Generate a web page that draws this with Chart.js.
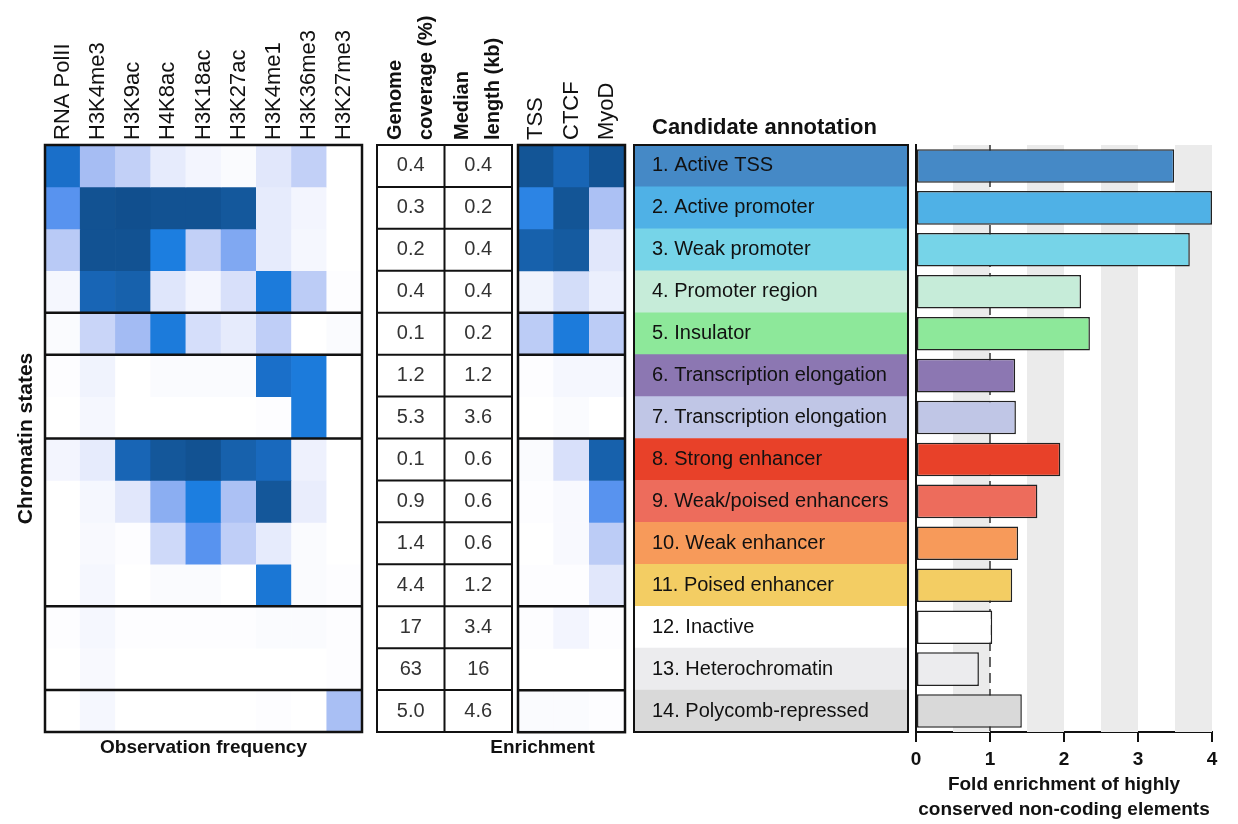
<!DOCTYPE html>
<html>
<head>
<meta charset="UTF-8">
<title>Chromatin states</title>
<script src="https://cdn.jsdelivr.net/npm/chart.js"></script>
<style>
  body { margin: 0; background: #fff; }
  #wrap { position: relative; width: 1238px; height: 824px; overflow: hidden; }
  #wrap canvas { position: absolute; top: 0; }
</style>
</head>
<body>
<div id="wrap">
  <canvas id="heat" width="372" height="824" style="left:0px"></canvas>
  <canvas id="table" width="155" height="824" style="left:365px"></canvas>
  <canvas id="enrich" width="200" height="824" style="left:440px"></canvas>
  <canvas id="annot" width="300" height="824" style="left:620px"></canvas>
  <canvas id="fold" width="342" height="824" style="left:896px"></canvas>
</div>

<script>
// --- data ---
var markLabels = ['RNA PolII', 'H3K4me3', 'H3K9ac', 'H4K8ac', 'H3K18ac', 'H3K27ac', 'H3K4me1', 'H3K36me3', 'H3K27me3'];

var stateNames = [
  '1. Active TSS', '2. Active promoter', '3. Weak promoter', '4. Promoter region',
  '5. Insulator', '6. Transcription elongation', '7. Transcription elongation',
  '8. Strong enhancer', '9. Weak/poised enhancers', '10. Weak enhancer',
  '11. Poised enhancer', '12. Inactive', '13. Heterochromatin', '14. Polycomb-repressed'
];

// observation frequency, one row per state, columns follow markLabels
var observationFreq = [
  [0.80, 0.34, 0.25, 0.10, 0.05, 0.02, 0.12, 0.25, 0.00],
  [0.55, 0.97, 0.99, 0.97, 0.97, 0.92, 0.10, 0.05, 0.00],
  [0.28, 0.97, 0.97, 0.70, 0.25, 0.45, 0.10, 0.04, 0.00],
  [0.04, 0.85, 0.87, 0.13, 0.05, 0.16, 0.72, 0.27, 0.01],
  [0.02, 0.22, 0.35, 0.72, 0.17, 0.10, 0.26, 0.00, 0.02],
  [0.01, 0.06, 0.00, 0.02, 0.02, 0.02, 0.80, 0.72, 0.00],
  [0.00, 0.04, 0.00, 0.00, 0.00, 0.00, 0.01, 0.72, 0.00],
  [0.05, 0.10, 0.85, 0.93, 0.97, 0.87, 0.83, 0.07, 0.00],
  [0.00, 0.04, 0.12, 0.42, 0.70, 0.32, 0.93, 0.09, 0.00],
  [0.00, 0.03, 0.01, 0.20, 0.55, 0.26, 0.10, 0.02, 0.00],
  [0.00, 0.04, 0.00, 0.02, 0.02, 0.00, 0.75, 0.02, 0.01],
  [0.01, 0.04, 0.01, 0.01, 0.01, 0.01, 0.02, 0.02, 0.01],
  [0.00, 0.03, 0.00, 0.00, 0.00, 0.00, 0.00, 0.00, 0.01],
  [0.00, 0.04, 0.00, 0.00, 0.00, 0.00, 0.01, 0.00, 0.33]
];

var tableLabels = [['Genome', 'coverage (%)'], ['Median', 'length (kb)']];
var genomeCoverage = [0.4, 0.3, 0.2, 0.4, 0.1, 1.2, 5.3, 0.1, 0.9, 1.4, 4.4, 17, 63, 5.0];
var medianLength = [0.4, 0.2, 0.4, 0.4, 0.2, 1.2, 3.6, 0.6, 0.6, 0.6, 1.2, 3.4, 16, 4.6];

var enrichLabels = ['TSS', 'CTCF', 'MyoD'];
var enrichment = [
  [0.95, 0.85, 0.96],
  [0.66, 0.95, 0.32],
  [0.87, 0.90, 0.12],
  [0.06, 0.18, 0.08],
  [0.27, 0.72, 0.27],
  [0.01, 0.04, 0.04],
  [0.00, 0.02, 0.00],
  [0.02, 0.16, 0.87],
  [0.01, 0.03, 0.55],
  [0.00, 0.03, 0.27],
  [0.01, 0.01, 0.12],
  [0.01, 0.05, 0.01],
  [0.00, 0.00, 0.00],
  [0.02, 0.02, 0.01]
];

var foldEnrichment = [3.49, 4.0, 3.70, 2.23, 2.35, 1.34, 1.35, 1.95, 1.64, 1.38, 1.30, 1.03, 0.85, 1.43];

// states are grouped into boxes; a line after these rows
var groupBreaks = [4, 5, 7, 11, 13];

// --- styles ---
var stateColors = ['#4589c6', '#4fb1e6', '#76d4e8', '#c6ecd9', '#8de89a', '#8c77b2', '#c0c6e6',
                   '#e84129', '#ed6c5c', '#f79a5a', '#f3cd63', '#ffffff', '#ececee', '#d9d9d9'];
var shadedBands = [[0.5, 1], [1.5, 2], [2.5, 3], [3.5, 4]];
var referenceLine = 1;

var ramp = [
  [0, [255, 255, 255]], [0.1, [230, 235, 252]], [0.25, [194, 208, 247]], [0.35, [163, 187, 243]],
  [0.45, [128, 168, 242]], [0.55, [88, 147, 239]], [0.7, [28, 126, 224]], [0.8, [26, 111, 201]],
  [0.9, [21, 91, 160]], [1, [16, 78, 140]]
];

function blue(v) {
  for (var i = 1; i < ramp.length; i++) {
    if (v <= ramp[i][0]) {
      var a = ramp[i - 1], b = ramp[i];
      var t = (v - a[0]) / (b[0] - a[0]);
      var c = a[1].map(function (ch, k) { return Math.round(ch + (b[1][k] - ch) * t); });
      return 'rgb(' + c.join(',') + ')';
    }
  }
  return 'rgb(16,78,140)';
}

var FONT = '"Liberation Sans", Arial, sans-serif';
Chart.defaults.font.family = FONT;
Chart.defaults.color = '#111';

var noChrome = { legend: { display: false }, tooltip: { enabled: false } };

// box outline plus the group separator lines
var framePlugin = {
  id: 'frame',
  afterDatasetsDraw: function (chart, args, opts) {
    var ctx = chart.ctx, a = chart.chartArea, y = chart.scales.y, x = chart.scales.x;
    ctx.save();
    ctx.strokeStyle = '#111';
    ctx.lineWidth = opts.width || 2.5;
    (opts.rows || []).forEach(function (v) {
      var py = y.getPixelForValue(v);
      ctx.beginPath(); ctx.moveTo(a.left, py); ctx.lineTo(a.right, py); ctx.stroke();
    });
    if (opts.colSplits) {
      for (var i = 0; i < x.ticks.length - 1; i++) {
        var px = (x.getPixelForValue(i) + x.getPixelForValue(i + 1)) / 2;
        ctx.beginPath(); ctx.moveTo(px, a.top); ctx.lineTo(px, a.bottom); ctx.stroke();
      }
    }
    ctx.strokeRect(a.left, a.top, a.right - a.left, a.bottom - a.top);
    ctx.restore();
  }
};

function heatSets(rows) {
  return rows.map(function (row) {
    return {
      data: row.map(function () { return 1; }),
      backgroundColor: row.map(blue),
      borderWidth: 0,
      barPercentage: 1,
      categoryPercentage: 1,
      xAxisID: 'x',
      yAxisID: 'y'
    };
  });
}

// rotated column headers above a box whose top sits at y = 145
function topLabels(size, weight, lineHeight, lines) {
  var lh = size * lineHeight;
  return {
    type: 'category', position: 'top', stacked: true,
    grid: { display: false }, border: { display: false },
    ticks: { minRotation: 90, maxRotation: 90, autoSkip: false, padding: -3, color: '#111',
             labelOffset: lh * (lines + 1) / 2,
             font: { size: size, weight: weight, lineHeight: lineHeight } },
    afterFit: function (s) { s.height = 145; s.paddingLeft = 0; s.paddingRight = 0; }
  };
}

// observation frequency heatmap
new Chart(document.getElementById('heat'), {
  type: 'bar',
  data: { labels: markLabels, datasets: heatSets(observationFreq) },
  options: {
    responsive: false, animation: false,
    layout: { padding: { left: 0, right: 10, top: 0, bottom: 0 } },
    plugins: Object.assign({ frame: { rows: groupBreaks } }, noChrome),
    scales: {
      x: topLabels(22, 'normal', 1.2, 1),
      xb: {
        type: 'category', axis: 'x', position: 'bottom',
        grid: { display: false }, border: { display: false }, ticks: { display: false },
        title: { display: true, text: 'Observation frequency', color: '#111',
                 font: { size: 19, weight: 'bold' }, padding: { top: 0, bottom: 65 } },
        afterFit: function (s) { s.height = 92; }
      },
      y: {
        type: 'linear', stacked: true, min: 0, max: 14, reverse: true,
        grid: { display: false }, border: { display: false }, ticks: { display: false },
        title: { display: true, text: 'Chromatin states', color: '#111',
                 font: { size: 21, weight: 'bold' }, padding: { top: 14, bottom: 0 } },
        afterFit: function (s) { s.width = 45; }
      }
    }
  },
  plugins: [framePlugin]
});

// genome coverage / median length table
var tableText = {
  id: 'tableText',
  afterDraw: function (chart) {
    var ctx = chart.ctx, x = chart.scales.x, y = chart.scales.y;
    ctx.save();
    ctx.font = '20px ' + FONT;
    ctx.fillStyle = '#333';
    ctx.textAlign = 'center';
    ctx.textBaseline = 'middle';
    [genomeCoverage, medianLength].forEach(function (col, c) {
      col.forEach(function (v, r) {
        var s = v < 10 ? v.toFixed(1) : String(v);
        ctx.fillText(s, x.getPixelForValue(c), y.getPixelForValue(r + 0.5));
      });
    });
    ctx.restore();
  }
};

new Chart(document.getElementById('table'), {
  type: 'bar',
  data: { labels: tableLabels, datasets: [] },
  options: {
    responsive: false, animation: false,
    layout: { padding: { left: 12, right: 8, top: 0, bottom: 92 } },
    plugins: Object.assign({ frame: { rows: stateNames.map(function (s, i) { return i; }), colSplits: true, width: 2 } }, noChrome),
    scales: {
      x: topLabels(20, 'bold', 1.55, 2),
      y: { type: 'linear', min: 0, max: 14, reverse: true, display: false }
    }
  },
  plugins: [framePlugin, tableText]
});

// enrichment heatmap
new Chart(document.getElementById('enrich'), {
  type: 'bar',
  data: { labels: enrichLabels, datasets: heatSets(enrichment) },
  options: {
    responsive: false, animation: false,
    layout: { padding: { left: 20, right: 15, top: 0, bottom: 0 } },
    plugins: Object.assign({
      frame: { rows: groupBreaks },
      title: { display: true, position: 'bottom', text: 'Enrichment', color: '#111',
               font: { size: 19, weight: 'bold' }, padding: { top: 4, bottom: 65 } }
    }, noChrome),
    scales: {
      x: topLabels(22, 'normal', 1.2, 1),
      y: {
        type: 'linear', stacked: true, min: 0, max: 14, reverse: true,
        grid: { display: false }, border: { display: false }, ticks: { display: false },
        afterFit: function (s) { s.width = 58; }
      }
    }
  },
  plugins: [framePlugin]
});

// candidate annotation column: coloured rows with the state names written on them
var annotText = {
  id: 'annotText',
  afterDatasetsDraw: function (chart) {
    var ctx = chart.ctx, a = chart.chartArea, y = chart.scales.y;
    ctx.save();
    ctx.fillStyle = '#111';
    ctx.textBaseline = 'middle';
    ctx.font = '20px ' + FONT;
    stateNames.forEach(function (name, i) {
      ctx.fillText(name, a.left + 18, y.getPixelForValue(i));
    });
    ctx.font = 'bold 22px ' + FONT;
    ctx.fillText('Candidate annotation', a.left + 18, a.top - 17);
    ctx.restore();
  }
};

new Chart(document.getElementById('annot'), {
  type: 'bar',
  data: {
    labels: stateNames,
    datasets: [{
      data: stateNames.map(function () { return 1; }),
      backgroundColor: stateColors,
      borderWidth: 0, barPercentage: 1, categoryPercentage: 1
    }]
  },
  options: {
    indexAxis: 'y',
    responsive: false, animation: false,
    layout: { padding: { left: 14, right: 12, top: 145, bottom: 92 } },
    plugins: Object.assign({ frame: { width: 2 } }, noChrome),
    scales: {
      x: { type: 'linear', min: 0, max: 1, display: false },
      y: { type: 'category', display: false }
    }
  },
  plugins: [annotText, framePlugin]
});

// fold enrichment bars
var bandsPlugin = {
  id: 'bands',
  beforeDatasetsDraw: function (chart) {
    var ctx = chart.ctx, a = chart.chartArea, x = chart.scales.x;
    ctx.save();
    ctx.fillStyle = '#ebebeb';
    shadedBands.forEach(function (b) {
      var x0 = x.getPixelForValue(b[0]), x1 = x.getPixelForValue(b[1]);
      ctx.fillRect(x0, a.top, x1 - x0, a.bottom - a.top);
    });
    var rx = x.getPixelForValue(referenceLine);
    ctx.strokeStyle = '#333';
    ctx.lineWidth = 1.5;
    ctx.setLineDash([10, 6]);
    ctx.beginPath(); ctx.moveTo(rx, a.top); ctx.lineTo(rx, a.bottom); ctx.stroke();
    ctx.restore();
  }
};

new Chart(document.getElementById('fold'), {
  type: 'bar',
  data: {
    labels: stateNames,
    datasets: [{
      data: foldEnrichment,
      backgroundColor: stateColors,
      borderColor: '#222',
      borderWidth: 1.5,
      borderSkipped: false,
      barPercentage: 0.8,
      categoryPercentage: 1
    }]
  },
  options: {
    indexAxis: 'y',
    responsive: false, animation: false,
    layout: { padding: { left: 20, right: 26, top: 145, bottom: 0 } },
    plugins: noChrome,
    scales: {
      x: {
        type: 'linear', min: 0, max: 4, position: 'bottom',
        ticks: { stepSize: 1, padding: 6, color: '#111', font: { size: 19, weight: 'bold' } },
        grid: { drawOnChartArea: false, drawTicks: true, tickLength: 10, color: '#111', lineWidth: 2 },
        border: { display: true, color: '#111', width: 2 },
        title: { display: true, color: '#111',
                 text: ['Fold enrichment of highly', 'conserved non-coding elements'],
                 font: { size: 19, weight: 'bold', lineHeight: 1.3 }, padding: { top: 0, bottom: 2 } },
        afterFit: function (s) { s.height = 92; }
      },
      y: {
        type: 'category',
        grid: { display: false }, ticks: { display: false },
        border: { display: true, color: '#111', width: 2 },
        afterFit: function (s) { s.width = 0; }
      }
    }
  },
  plugins: [bandsPlugin]
});
</script>
</body>
</html>
